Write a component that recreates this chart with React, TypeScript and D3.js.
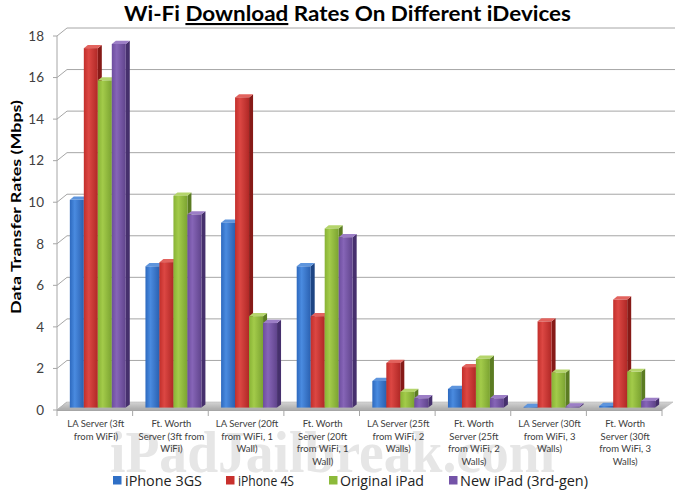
import React from "react";
import * as d3 from "d3";

const categories: string[][] = [
  ["LA Server (3ft", "from WiFi)"],
  ["Ft. Worth", "Server (3ft from", "WiFi)"],
  ["LA Server (20ft", "from WiFi, 1", "Wall)"],
  ["Ft. Worth", "Server (20ft", "from WiFi, 1", "Wall)"],
  ["LA Server (25ft", "from WiFi, 2", "Walls)"],
  ["Ft. Worth", "Server (25ft", "from WiFi, 2", "Walls)"],
  ["LA Server (30ft", "from WiFi, 3", "Walls)"],
  ["Ft. Worth", "Server (30ft", "from WiFi, 3", "Walls)"],
];

const seriesNames = ["iPhone 3GS", "iPhone 4S", "Original iPad", "New iPad (3rd-gen)"];

const iphone3gs = [10.0, 6.8, 8.9, 6.8, 1.28, 0.9, 0.03, 0.08];
const iphone4s = [17.3, 7.0, 14.93, 4.4, 2.15, 1.95, 4.15, 5.2];
const originalIpad = [15.75, 10.2, 4.4, 8.62, 0.75, 2.35, 1.68, 1.72];
const newIpad = [17.5, 9.3, 4.07, 8.2, 0.45, 0.45, 0.05, 0.32];

const seriesValues = [iphone3gs, iphone4s, originalIpad, newIpad];

const yTicks = [0, 2, 4, 6, 8, 10, 12, 14, 16, 18];

const palette = [
  { g: ["#2d69be", "#4a8be0", "#2a60b0"], side: "#1d4584", top: "#5e95dd", legend: "#2f6fc6" },
  { g: ["#c22f2b", "#dc4743", "#b02826"], side: "#861a17", top: "#e2635e", legend: "#c8302c" },
  { g: ["#88b335", "#a3cb4a", "#7ba331"], side: "#5b7c22", top: "#b5d56c", legend: "#8cba3a" },
  { g: ["#6d4d9f", "#8665b7", "#60448c"], side: "#46306d", top: "#9c7ec6", legend: "#7453a8" },
];

const W = 680;
const H = 495;
const FX0 = 57;
const FX1 = 662;
const DDX = 10;
const DDY = -8;
const D0 = 0.3;
const D1 = 0.7;

export default function App() {
  const y = d3.scaleLinear().domain([0, 18]).range([410, 36]);
  const x0 = d3
    .scaleBand<number>()
    .domain(d3.range(categories.length))
    .range([FX0, FX1])
    .paddingInner(0.26)
    .paddingOuter(0.13);
  const x1 = d3
    .scaleBand<number>()
    .domain(d3.range(seriesNames.length))
    .range([0, x0.bandwidth()])
    .padding(0);
  const step = x0.step();
  const bw = x1.bandwidth();

  const fdx = DDX * D0;
  const fdy = DDY * D0;
  const bdx = DDX * (D1 - D0);
  const bdy = DDY * (D1 - D0);

  const gridColor = "#a6a6a6";

  const bars: React.ReactNode[] = [];
  categories.forEach((_, ci) => {
    seriesValues.forEach((vals, si) => {
      const v = vals[ci];
      const xl = (x0(ci) as number) + (x1(si) as number) + fdx;
      const xr = xl + bw;
      const yt = y(v) + fdy;
      const yb = y(0) + fdy;
      const p = palette[si];
      bars.push(
        <g key={`b${ci}-${si}`}>
          <polygon
            points={`${xr},${yt} ${xr + bdx},${yt + bdy} ${xr + bdx},${yb + bdy} ${xr},${yb}`}
            fill={p.side}
          />
          <polygon
            points={`${xl},${yt} ${xl + bdx},${yt + bdy} ${xr + bdx},${yt + bdy} ${xr},${yt}`}
            fill={p.top}
          />
          <rect x={xl} y={yt} width={bw} height={Math.max(0, yb - yt)} fill={`url(#grad${si})`} />
        </g>
      );
    });
  });

  const legendItems = [
    { x: 113, tx: 125, len: 77 },
    { x: 226, tx: 238, len: 56 },
    { x: 329, tx: 340, len: 84 },
    { x: 449, tx: 460, len: 128 },
  ];

  return (
    <svg
      width={W}
      height={H}
      style={{ position: "absolute", left: 0, top: 0, background: "#fff" }}
      fontFamily="'Open Sans', sans-serif"
    >
      <defs>
        {palette.map((p, i) => (
          <linearGradient key={i} id={`grad${i}`} x1="0" y1="0" x2="1" y2="0">
            <stop offset="0" stopColor={p.g[0]} />
            <stop offset="0.35" stopColor={p.g[1]} />
            <stop offset="1" stopColor={p.g[2]} />
          </linearGradient>
        ))}
        <linearGradient id="floor" x1="0" y1="0" x2="0" y2="1">
          <stop offset="0" stopColor="#d4d4d4" />
          <stop offset="1" stopColor="#a9a9a9" />
        </linearGradient>
      </defs>
      <rect width={W} height={H} fill="#fff" />

      {/* watermark */}
      <text
        x={110}
        y={472}
        fontFamily="'Liberation Serif', 'DejaVu Serif', serif"
        fontWeight="bold"
        fontSize={60}
        fill="#e6e6e6"
        textLength={445}
        lengthAdjust="spacingAndGlyphs"
      >
        iPadJailbreak.com
      </text>

      {/* title */}
      <text
        x={124}
        y={21}
        fontFamily="Lato, 'Open Sans', sans-serif"
        fontWeight="bold"
        fontSize={21}
        fill="#000"
        textLength={447}
        lengthAdjust="spacingAndGlyphs"
      >
        Wi-Fi{" "}
        <tspan textDecoration="underline" style={{ textDecoration: "underline" }}>
          Download
        </tspan>{" "}
        Rates On Different iDevices
      </text>

      {/* back wall gridlines and depth ticks */}
      {yTicks.map((t) => (
        <g key={`g${t}`} stroke={gridColor} strokeWidth={1}>
          {t > 0 && <line x1={FX0 + DDX} x2={FX1 + DDX + 3} y1={y(t) + DDY} y2={y(t) + DDY} />}
          <line x1={FX0} y1={y(t)} x2={FX0 + DDX} y2={y(t) + DDY} />
          <line x1={FX0 - 4} y1={y(t)} x2={FX0} y2={y(t)} />
        </g>
      ))}

      {/* floor */}
      <polygon
        points={`${FX0},${y(0)} ${FX1},${y(0)} ${FX1 + DDX + 1},${y(0) + DDY} ${FX0 + DDX},${y(0) + DDY}`}
        fill="url(#floor)"
        stroke="#b5b5b5"
        strokeWidth={0.6}
      />

      {/* front value axis */}
      <line x1={FX0} x2={FX0} y1={y(18)} y2={y(0)} stroke={gridColor} />
      {yTicks.map((t) => (
        <text
          key={`yt${t}`}
          x={44}
          y={y(t)}
          dy="0.35em"
          textAnchor="end"
          fontSize={13.5}
          fill="#404040"
          fontFamily="Lato, 'Open Sans', sans-serif"
        >
          {t}
        </text>
      ))}

      {/* category axis */}
      <line x1={FX0} x2={FX1} y1={y(0) + 0.5} y2={y(0) + 0.5} stroke={gridColor} />
      {d3.range(categories.length + 1).map((i) => (
        <line
          key={`ct${i}`}
          x1={FX0 + i * step}
          x2={FX0 + i * step}
          y1={y(0)}
          y2={y(0) + 6}
          stroke={gridColor}
        />
      ))}

      {bars}

      {/* category labels */}
      {categories.map((lines, ci) => (
        <text
          key={`cl${ci}`}
          textAnchor="middle"
          fontSize={9.5}
          fill="#404040"
          fontFamily="Lato, 'Open Sans', sans-serif"
        >
          {lines.map((ln, li) => (
            <tspan key={li} x={FX0 + (ci + 0.5) * step + 1} y={427 + li * 12.5}>
              {ln}
            </tspan>
          ))}
        </text>
      ))}

      {/* y axis title */}
      <text
        transform="translate(21,207) rotate(-90)"
        textAnchor="middle"
        fontSize={14}
        fontWeight="bold"
        fill="#000"
        fontFamily="Lato, 'Open Sans', sans-serif"
        textLength={214}
        lengthAdjust="spacingAndGlyphs"
      >
        Data Transfer Rates (Mbps)
      </text>

      {/* legend */}
      {seriesNames.map((name, i) => (
        <g key={`lg${i}`}>
          <rect x={legendItems[i].x} y={476} width={8.5} height={8.5} fill={palette[i].legend} />
          <text
            x={legendItems[i].tx}
            y={486}
            fontSize={15}
            fill="#222"
            fontFamily="'Open Sans', sans-serif"
            textLength={legendItems[i].len}
            lengthAdjust="spacingAndGlyphs"
          >
            {name}
          </text>
        </g>
      ))}
    </svg>
  );
}
